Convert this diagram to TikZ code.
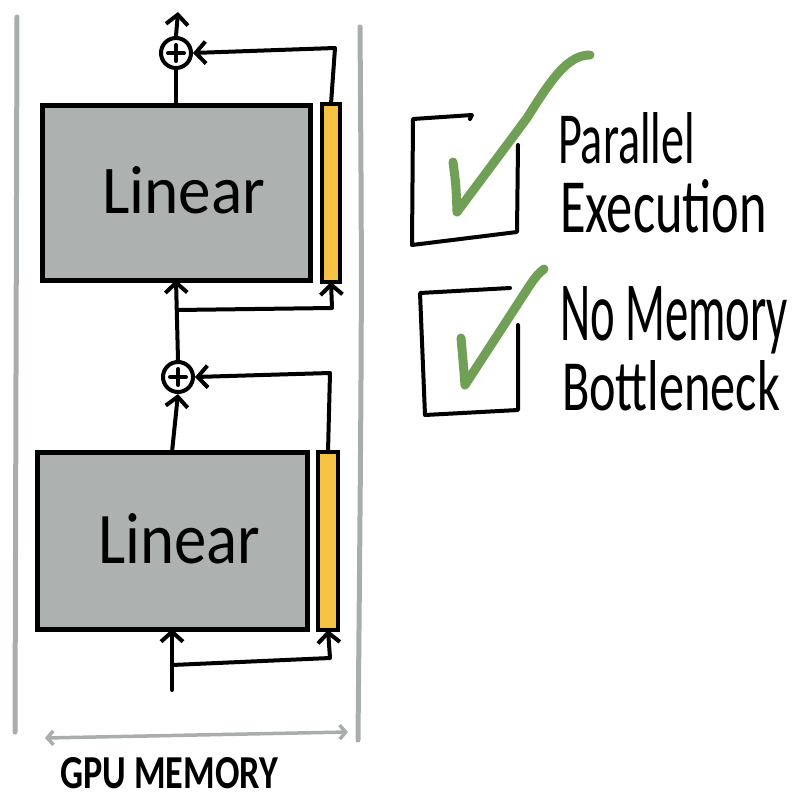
\documentclass[tikz,border=0pt]{standalone}
\usepackage{fontspec}
\setmainfont{Carlito}
\usetikzlibrary{arrows.meta}
\definecolor{boxgray}{HTML}{ADB2B0}
\definecolor{baryellow}{HTML}{F5C244}
\definecolor{memgray}{HTML}{A9AEAC}
\definecolor{checkgreen}{HTML}{6FA055}
\newcommand{\hw}[3]{\resizebox{#1pt}{#2pt}{#3}}
\begin{document}
\begin{tikzpicture}[x=1pt,y=-1pt,
  linbox/.style={draw=black, line width=5pt, fill=boxgray, inner sep=0pt, outer sep=0pt},
  barbox/.style={draw=black, line width=4.5pt, fill=baryellow, inner sep=0pt, outer sep=0pt},
  sumnode/.style={circle, draw=black, line width=4pt, minimum size=30pt, inner sep=0pt, fill=white,
    path picture={\draw[line width=4pt, line cap=round] (path picture bounding box.center) ++(-8pt,0pt) -- ++(16pt,0pt);
                  \draw[line width=4pt, line cap=round] (path picture bounding box.center) ++(0pt,-8pt) -- ++(0pt,16pt);}},
  conn/.style={line width=4pt, line cap=round, line join=round},
  arr/.style={conn, -{Straight Barb[length=10pt, width=22pt]}},
  memline/.style={draw=memgray, line width=5pt, line cap=round},
  memarrow/.style={draw=memgray, line width=3.5pt, line cap=round,
    {Straight Barb[length=6pt, width=14pt]}-{Straight Barb[length=6pt, width=14pt]}},
  tick/.style={draw=checkgreen, line width=9pt, line cap=round, line join=round},
  chk/.style={draw=black, line width=4pt, line cap=round, line join=round},
  txt/.style={inner sep=0pt, outer sep=0pt, anchor=base west}
]
\useasboundingbox (0,0) rectangle (800,800);

% GPU memory boundaries
\draw[memline] (17,17) -- (15,732);
\draw[memline] (360,27) .. controls (362,300) .. (358,740);
\coordinate (ml) at (45,738);
\coordinate (mr) at (348,732);
\draw[memarrow] (ml) -- (mr);
\node[txt] (gpu) at (60,788) {\hw{218}{31}{\bfseries GPU MEMORY}};

% blocks
\node[linbox, minimum width=268pt, minimum height=175pt] (l1) at (176,192.5) {};
\node[barbox, minimum width=18pt, minimum height=178pt] (b1) at (331,193) {};
\node[linbox, minimum width=270pt, minimum height=177pt] (l2) at (172,540.5) {};
\node[barbox, minimum width=20pt, minimum height=178pt] (b2) at (328,541) {};
\node[txt] (t1) at (102,213) {\hw{163}{47}{Linear}};
\node[txt] (t2) at (98,563) {\hw{162}{50}{Linear}};

\node[sumnode] (p1) at (176,53) {};
\node[sumnode] (p2) at (178,377) {};

% connectors
\coordinate (out) at (178,12);
\coordinate (fb1) at (335,48);
\coordinate (br1) at (177,310);
\coordinate (fb1b) at (332,308);
\coordinate (fb2) at (330,373);
\coordinate (in) at (172,690);
\coordinate (br2) at (172,665);
\coordinate (fb2b) at (330,658);

\draw[conn] (l1.north) -- (p1.south);
\draw[arr] (p1.north) -- (out);
\draw[arr] (b1.north) -- (fb1) -- (p1.east);
\draw[arr] (p2.north) -- (l1.south);
\draw[arr] (br1) -- (fb1b) -- (b1.south);
\draw[arr] (b2.north) -- (fb2) -- (p2.east);
\draw[arr] (l2.north) -- (p2.south);
\draw[arr] (in) -- (l2.south);
\draw[arr] (br2) -- (fb2b) -- (b2.south);

% checkboxes
\draw[chk] (470,119) -- (472,115) -- (413,119) -- (412,245) -- (517,232) -- (518,145);
\draw[tick] (453,162) .. controls (456,185) .. (457,212) -- (527,118) .. controls (552,78) and (568,55) .. (590,55);
\draw[chk] (510,288) -- (420,293) -- (425,415) -- (518,410) -- (518,325);
\draw[tick] (461,338) .. controls (463,360) .. (465,385) -- (530,285) .. controls (537,275) .. (544,269);

\node[txt] (t3) at (558,163) {\hw{137}{51}{Parallel}};
\node[txt] (t4) at (560,232) {\hw{207}{53}{Execution}};
\node[txt] (t5) at (560,340) {\hw{228}{54}{No Memory}};
\node[txt] (t6) at (562,410) {\hw{218}{50}{Bottleneck}};
\end{tikzpicture}
\end{document}
